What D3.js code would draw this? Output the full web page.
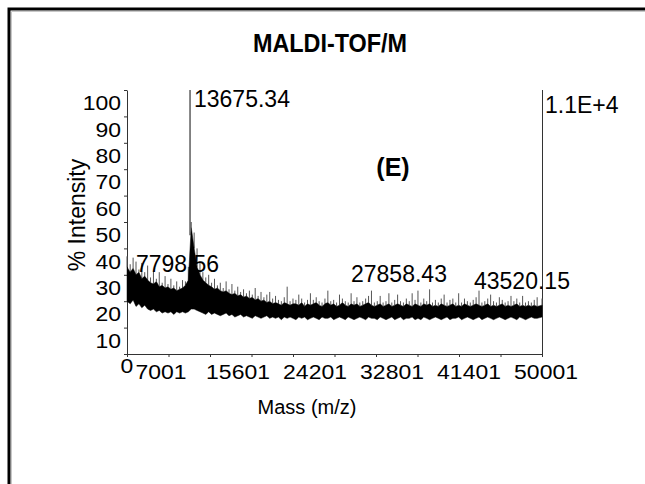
<!DOCTYPE html>
<html>
<head>
<meta charset="utf-8">
<script src="https://cdn.jsdelivr.net/npm/d3@7"></script>
<style>
  body { margin: 0; background: #fff; }
  svg { display: block; font-family: "Liberation Sans", Arial, sans-serif; }
</style>
</head>
<body>
<div id="chart"></div>
<script>
const massStart = 7200, massEnd = 50001, massStep = 300;
const bandLow = [
  20, 19, 20.5, 18, 19, 17.5, 18.5, 17, 16.5, 17,
  16, 16.5, 15.5, 16, 15.5, 16, 15, 16, 15.5, 16,
  15.5, 16, 17, 17, 16.5, 16, 15.5, 15, 16, 15,
  15.5, 15, 14.5, 15, 15.5, 14.5, 15, 14, 14.5, 15,
  14, 14.5, 14, 13.5, 14.5, 14, 13.5, 14, 14.5, 13.5,
  14, 13.5, 14, 13, 14, 13.5, 14, 13.5, 13, 14,
  13.5, 14, 13, 13.5, 14, 13.5, 13, 14, 13.5, 13.5,
  14, 13, 13.5, 14, 13.5, 13, 14, 13.5, 13, 13.5,
  14, 13.5, 13, 14, 13.5, 13.5, 13, 14, 13.5, 13,
  13.5, 14, 13, 13.5, 14, 13, 13.5, 13.5, 14, 13,
  13.5, 13, 14, 13.5, 13, 13.5, 14, 13.5, 13, 13.5,
  14, 13, 13.5, 13.5, 14, 13, 13.5, 14, 13.5, 13,
  13.5, 14, 13, 13.5, 14, 13.5, 13, 13.5, 14, 13.5,
  13, 13.5, 14, 13.5, 13, 14, 13.5, 13, 13.5, 14,
  13.5, 13.5, 14
];
const bandHigh = [
  33, 31, 32.5, 30, 31, 28.5, 29.5, 28, 27, 26.5,
  27.5, 25.5, 26, 25, 25.5, 24.5, 25, 24, 24.5, 25,
  26, 28, 48, 40, 33, 30, 28, 27, 26, 25.5,
  24.5, 25, 24, 23.5, 24, 23, 22.5, 23, 22, 22.5,
  21.5, 22, 21, 21.5, 20.5, 21, 20, 20.5, 19.5, 20,
  19, 19.5, 19, 18.5, 19.5, 19, 18.5, 19, 19, 18.5,
  19.5, 18, 19, 18.5, 19, 19.5, 18.5, 18, 19, 19.5,
  18.5, 19, 18, 18.5, 19.5, 18.5, 18, 19, 18.5, 19,
  18, 18.5, 19, 19.5, 18.5, 18, 18.5, 19, 18, 18.5,
  19, 18, 18.5, 19, 18.5, 18, 19, 18.5, 18, 19,
  18.5, 18, 19, 18.5, 19, 18, 18.5, 18, 19, 18.5,
  18, 18.5, 19, 18, 18.5, 18, 19, 18.5, 18, 18.5,
  19, 18.5, 18, 18.5, 19, 18, 18.5, 18, 18.5, 19,
  18, 18.5, 18, 18.5, 19, 18, 18.5, 18, 18.5, 18,
  18.5, 18, 18.5
];
const spikeTop = [
  37, 34, 36.5, 35, 32, 34.5, 31, 33.5, 29, 31.5,
  28.5, 31, 27, 29.5, 26.5, 28.5, 26, 27.5, 25.5, 28,
  27.5, 33, 50, 46, 40, 35, 31, 29, 30, 27,
  28.5, 26, 27, 25, 27.5, 24.5, 26.5, 24, 25.5, 23.5,
  24.5, 23, 24, 22.5, 25, 22, 23.5, 21.5, 22.5, 23.5,
  21, 22, 20.5, 20, 21.5, 25.5, 20, 21, 20.5, 22.5,
  21, 19.5, 20.5, 23, 20.5, 21.5, 20, 19.5, 21, 24,
  20, 20.5, 19.5, 22.5, 21, 20, 19.5, 23, 20, 21.5,
  19.5, 20, 21, 22, 24, 19.5, 20, 22, 19.5, 20,
  23, 19.5, 20.5, 22.5, 20, 19.5, 21, 20, 23, 20.5,
  24, 19.5, 21, 20, 24.5, 19.5, 20.5, 19.5, 21, 22.5,
  19.5, 20.5, 21, 19.5, 23, 19.5, 21, 20, 19.5, 20.5,
  21.5, 24, 19.5, 20, 21, 22.5, 20, 19.5, 21.5, 20.5,
  19.5, 20, 22, 20, 21, 19.5, 22, 19.5, 20, 19.5,
  20.5, 21.5, 21
];

const basePeakMass = 13675.34, basePeakIntensity = 100;
const peakLabels = ["7798.56", "13675.34", "27858.43", "43520.15"];
const yTickLabels = [10, 20, 30, 40, 50, 60, 70, 80, 90, 100];
const xTickLabels = [7001, 15601, 24201, 32801, 41401, 50001];
const maxCounts = "1.1E+4";

const W = 645, H = 484;
const svg = d3.select("#chart").append("svg").attr("width", W).attr("height", H);

// outer frame (only top and left edges are visible)
svg.append("path").attr("d", `M11.5,${H} V11.5 H${W}`)
  .attr("fill", "none").attr("stroke", "#c8c8c8").attr("stroke-width", 1);
svg.append("path").attr("d", `M9,${H} V9 H${W}`)
  .attr("fill", "none").attr("stroke", "#000").attr("stroke-width", 3);

const x = d3.scaleLinear().domain([7170, massEnd]).range([127, 542]);
const y = d3.scaleLinear().domain([0, 100]).range([354, 90]);
// the printed mass labels sit on their own spacing
const xLab = d3.scaleLinear().domain([7001, 50001]).range([161, 546]);

const masses = d3.range(massStart, massEnd, massStep);
const trace = masses.map((m, i) => ({
  m: i === 0 ? x.domain()[0] : i === masses.length - 1 ? massEnd : m,
  lo: bandLow[i], hi: bandHigh[i], top: spikeTop[i]
}));

// axes
const xd = x.domain();
const xTickVals = d3.range(11).map(i => xd[0] + i * (xd[1] - xd[0]) / 10);
const gx = svg.append("g").attr("transform", `translate(0,${y(0)})`)
  .call(d3.axisBottom(x).tickValues(xTickVals).tickSize(3).tickSizeOuter(0).tickFormat(""));
const gy = svg.append("g").attr("transform", `translate(${x(xd[0])},0)`)
  .call(d3.axisLeft(y).tickValues(d3.range(0, 101, 10)).tickSize(3).tickSizeOuter(0).tickFormat(""));
[gx, gy].forEach(g => g.selectAll("path,line").attr("stroke", "#333"));
svg.append("line")
  .attr("x1", x(massEnd) + 0.5).attr("x2", x(massEnd) + 0.5)
  .attr("y1", y(100)).attr("y2", y(0))
  .attr("stroke", "#333");

// spectrum: thin spikes, dense noise band, base peak
svg.append("g").selectAll("line").data(trace.filter(d => d.top > d.hi)).join("line")
  .attr("x1", d => x(d.m)).attr("x2", d => x(d.m))
  .attr("y1", d => y(d.hi)).attr("y2", d => y(d.top))
  .attr("stroke", "#555").attr("stroke-width", 1);
svg.append("path").datum(trace)
  .attr("d", d3.area().x(d => x(d.m)).y0(d => y(d.lo)).y1(d => y(d.hi)))
  .attr("fill", "#000").attr("stroke", "#000").attr("stroke-width", 0.5);
svg.append("line")
  .attr("x1", x(basePeakMass)).attr("x2", x(basePeakMass))
  .attr("y1", y(45)).attr("y2", y(basePeakIntensity))
  .attr("stroke", "#333").attr("stroke-width", 1.2);

// tick labels
yTickLabels.forEach(v => {
  svg.append("text")
    .attr("transform", `translate(121,${y(v - 5) + 7}) scale(1.12,1)`)
    .attr("text-anchor", "end").attr("font-size", 20.5).text(v);
});
svg.append("text")
  .attr("transform", `translate(${x(xd[0])},373) scale(1.12,1)`)
  .attr("text-anchor", "middle").attr("font-size", 20.5).text("0");
xTickLabels.forEach(v => {
  svg.append("text")
    .attr("transform", `translate(${xLab(v)},379) scale(1.12,1)`)
    .attr("text-anchor", "middle").attr("font-size", 20.5).text(v);
});

// titles
svg.append("text").attr("transform", "translate(330,52) scale(0.9,1)").attr("text-anchor", "middle")
  .attr("font-size", 26).attr("font-weight", "bold").text("MALDI-TOF/M");
svg.append("text").attr("x", 393).attr("y", 176).attr("text-anchor", "middle")
  .attr("font-size", 25).attr("font-weight", "bold").text("(E)");
svg.append("text").attr("transform", "translate(85,215) rotate(-90)")
  .attr("text-anchor", "middle").attr("font-size", 23).text("% Intensity");
svg.append("text").attr("x", 307).attr("y", 414).attr("text-anchor", "middle")
  .attr("font-size", 20).text("Mass (m/z)");
svg.append("text").attr("x", x(massEnd) + 3).attr("y", 113)
  .attr("font-size", 23).text(maxCounts);

// peak annotations
const annoPos = [[136, 272], [194, 107], [351, 282], [474, 289]];
peakLabels.forEach((t, i) => {
  svg.append("text").attr("x", annoPos[i][0]).attr("y", annoPos[i][1])
    .attr("font-size", 23).text(t);
});
</script>
</body>
</html>
